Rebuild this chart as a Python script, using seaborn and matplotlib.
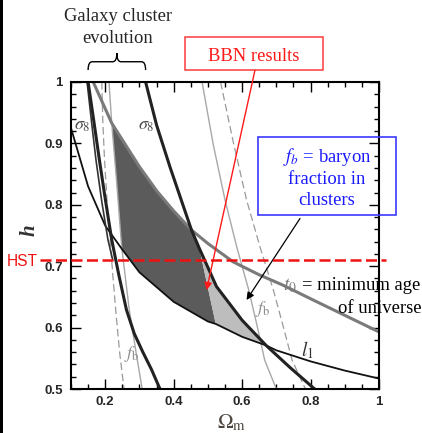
import matplotlib
matplotlib.use("Agg")
import matplotlib.pyplot as plt
import seaborn as sns
from matplotlib.path import Path
from matplotlib.patches import PathPatch, Rectangle
from matplotlib.ticker import MultipleLocator, FuncFormatter

# =========================================
# Curves (Omega_m, h)
# =========================================

# l1 (first acoustic peak)
l1_om = [0.1, 0.15, 0.2, 0.25, 0.3, 0.4, 0.5, 0.523, 0.6, 0.67, 0.7, 0.8, 0.9, 1.0]
l1_h = [0.925, 0.83, 0.766, 0.727, 0.69, 0.642, 0.61, 0.606, 0.585, 0.571, 0.563, 0.545, 0.53, 0.517]

# t0 = minimum age of universe
t0_om = [0.165, 0.219, 0.3, 0.35, 0.4, 0.452, 0.5, 0.574, 0.65, 0.72, 0.8, 0.9, 1.0]
t0_h = [1.0, 0.933, 0.862, 0.823, 0.79, 0.759, 0.737, 0.707, 0.686, 0.669, 0.647, 0.62, 0.593]

# sigma8 (galaxy cluster evolution)
s8l_om = [0.15, 0.167, 0.183, 0.2, 0.219, 0.24, 0.262, 0.285, 0.31, 0.335, 0.36]
s8l_h = [1.0, 0.935, 0.873, 0.81, 0.743, 0.685, 0.629, 0.59, 0.56, 0.532, 0.5]
s8a_om = [0.147, 0.16, 0.173, 0.19, 0.208, 0.222]
s8a_h = [1.0, 0.935, 0.873, 0.805, 0.743, 0.71]
s8r_om = [0.318, 0.35, 0.389, 0.452, 0.475, 0.525, 0.6, 0.67, 0.74, 0.812]
s8r_h = [1.0, 0.93, 0.862, 0.759, 0.729, 0.667, 0.612, 0.571, 0.535, 0.5]

# baryon fraction lines
fbl_om = [0.211, 0.219, 0.233, 0.248, 0.27, 0.29, 0.308]
fbl_h = [1.0, 0.933, 0.84, 0.732, 0.63, 0.56, 0.5]
fbld_om = [0.19, 0.193, 0.198, 0.206, 0.214, 0.223, 0.232, 0.242, 0.255]
fbld_h = [1.0, 0.935, 0.873, 0.8, 0.743, 0.68, 0.62, 0.56, 0.5]
fbr_om = [0.483, 0.515, 0.55, 0.585, 0.62, 0.645, 0.666, 0.70]
fbr_h = [1.0, 0.9, 0.808, 0.73, 0.66, 0.6, 0.547, 0.5]
fbrd_om = [0.537, 0.575, 0.613, 0.653, 0.692, 0.721, 0.746, 0.785]
fbrd_h = fbr_h

# allowed regions
dark_om = [0.219, 0.3, 0.35, 0.4, 0.452, 0.475, 0.523, 0.5, 0.4, 0.3, 0.25, 0.248, 0.233]
dark_h = [0.933, 0.862, 0.823, 0.79, 0.759, 0.729, 0.606, 0.61, 0.642, 0.69, 0.727, 0.732, 0.84]
light_om = [0.475, 0.525, 0.6, 0.67, 0.6, 0.523]
light_h = [0.729, 0.667, 0.612, 0.571, 0.585, 0.606]

hst_h = 0.71
bbn_tip = (0.496, 0.661)
fb_tip = (0.613, 0.645)

# =========================================
# Figure setup
# =========================================

sns.set_style("ticks")
plt.rcParams['font.family'] = ['Liberation Serif', 'DejaVu Serif']
plt.rcParams['mathtext.fontset'] = 'stix'

W, H = 422, 433
fig = plt.figure(figsize=(W / 100, H / 100), dpi=100)
ax = fig.add_axes([71 / W, 1 - 389 / H, 308 / W, 307 / H])


def P(px, py):
    return (px / W, 1 - py / H)


ax.fill(dark_om, dark_h, color='#5b5b5b', lw=0, zorder=1)
ax.fill(light_om, light_h, color='#bdbdbd', lw=0, zorder=1)


def curve(om, h, **kw):
    sns.lineplot(x=om, y=h, sort=False, estimator=None, ax=ax, **kw)


curve(fbld_om, fbld_h, color='#9a9a9a', linewidth=0.9, linestyle=(0, (6, 3)))
curve(fbl_om, fbl_h, color='#a8a8a8', linewidth=1.0)
curve(fbrd_om, fbrd_h, color='#9a9a9a', linewidth=0.9, linestyle=(0, (6, 3)))
curve(fbr_om, fbr_h, color='#a8a8a8', linewidth=1.0)
curve(t0_om, t0_h, color='#7a7a7a', linewidth=2.2)
curve(l1_om, l1_h, color='#111111', linewidth=1.3)
curve(s8a_om, s8a_h, color='#333333', linewidth=1.2)
curve(s8l_om, s8l_h, color='#222222', linewidth=2.2)
curve(s8r_om, s8r_h, color='#222222', linewidth=2.2)

ax.set_xlim(0.1, 1.0)
ax.set_ylim(0.5, 1.0)
ax.set_xlabel("")
ax.set_ylabel("")

ax.xaxis.set_major_locator(MultipleLocator(0.2))
ax.xaxis.set_minor_locator(MultipleLocator(0.05))
ax.yaxis.set_major_locator(MultipleLocator(0.1))
ax.yaxis.set_minor_locator(MultipleLocator(0.02))
fmt = FuncFormatter(lambda v, p: f"{v:g}")
ax.xaxis.set_major_formatter(fmt)
ax.yaxis.set_major_formatter(fmt)
ax.tick_params(which='both', direction='in', top=True, right=True, width=1, color='black')
ax.tick_params(which='major', length=7)
ax.tick_params(which='minor', length=3.5)
ax.tick_params(axis='x', pad=5)
ax.tick_params(axis='y', pad=6)
for lbl in ax.get_xticklabels() + ax.get_yticklabels():
    lbl.set_fontfamily('Liberation Sans')
    lbl.set_fontweight('bold')
    lbl.set_fontsize(9.5)
for sp in ax.spines.values():
    sp.set_linewidth(1.5)
    sp.set_color('black')

# HST line
ax.plot([0.0095, 1.019], [hst_h, hst_h], color='#ee1111', linewidth=1.8,
        linestyle=(0, (4.4, 1.8)), clip_on=False, zorder=5)
fig.text(*P(7, 266), "HST", color='#ee1111', fontsize=11.2,
         family='Liberation Sans', ha='left', va='baseline')

# axis labels
fig.text(*P(232, 428), r"$\Omega_{\rm m}$", color='#4d463f', fontsize=15,
         ha='center', va='baseline')
fig.text(*P(30, 230), "h", color='#333333', fontsize=15, fontstyle='italic',
         fontweight='bold', rotation=90, ha='center', va='center')

# curve labels
ax.text(0.109, 0.922, r"$\sigma_8$", color='#505050', fontsize=13, va='baseline')
ax.text(0.2965, 0.922, r"$\sigma_8$", color='#505050', fontsize=13, va='baseline')
ax.text(0.255, 0.55, r"$f_{\rm b}$", color='#8e8e8e', fontsize=13, va='baseline')
ax.text(0.637, 0.623, r"$f_{\rm b}$", color='#8e8e8e', fontsize=13, va='baseline')
ax.text(0.773, 0.553, r"$l_1$", color='#333333', fontsize=14, va='baseline')

fig.text(*P(283, 290), r"$t_0$", color='#7a7a7a', fontsize=14, ha='left', va='baseline')
fig.text(*P(420, 290), "= minimum age", color='black', fontsize=13.4,
         ha='right', va='baseline')
fig.text(*P(421, 313), "of universe", color='black', fontsize=13.4,
         ha='right', va='baseline')

# Galaxy cluster evolution with brace
fig.text(*P(118, 21), "Galaxy cluster", fontsize=13.4, ha='center', va='baseline')
fig.text(*P(118, 43), "evolution", fontsize=13.4, ha='center', va='baseline')
x0, x1 = s8l_om[0], s8r_om[0]
xm = (x0 + x1) / 2
yb, ym, yt = 1.0195, 1.033, 1.047
r = 0.012
verts = [(x0, yb), (x0, ym), (x0 + r, ym), (xm - r, ym), (xm, ym), (xm, yt),
         (xm, ym), (xm + r, ym), (x1 - r, ym), (x1, ym), (x1, yb)]
codes = [Path.MOVETO, Path.CURVE3, Path.CURVE3, Path.LINETO, Path.CURVE3, Path.CURVE3,
         Path.CURVE3, Path.CURVE3, Path.LINETO, Path.CURVE3, Path.CURVE3]
ax.add_patch(PathPatch(Path(verts, codes), fill=False, lw=1.0, color='black', clip_on=False))

# BBN box and arrow
x, y = P(185.3, 70)
fig.patches.append(Rectangle((x, y), (323.3 - 185.3) / W, (70 - 37.3) / H,
                             transform=fig.transFigure, fill=False,
                             edgecolor='#ff3b3b', lw=1.1))
fig.text(*P(254, 61), "BBN results", color='#ff1a1a', fontsize=13.4,
         ha='center', va='baseline')
ax.annotate("", xy=bbn_tip, xycoords='data', xytext=P(255, 70),
            textcoords='figure fraction',
            arrowprops=dict(arrowstyle='-|>', color='#ff1a1a', lw=1.0,
                            shrinkA=0, shrinkB=0, mutation_scale=11))

# baryon fraction box and arrow
x, y = P(258.3, 215)
fig.patches.append(Rectangle((x, y), (396 - 258.3) / W, (215 - 137.3) / H,
                             transform=fig.transFigure, fill=False,
                             edgecolor='#3a3aff', lw=1.2))
fig.text(*P(327, 162), r"$f_b$ = baryon", color='#1a1aff', fontsize=13.4,
         ha='center', va='baseline')
fig.text(*P(327, 183.5), "fraction in", color='#1a1aff', fontsize=13.4,
         ha='center', va='baseline')
fig.text(*P(327, 205), "clusters", color='#1a1aff', fontsize=13.4,
         ha='center', va='baseline')
ax.annotate("", xy=fb_tip, xycoords='data', xytext=P(300, 218.5),
            textcoords='figure fraction',
            arrowprops=dict(arrowstyle='-|>', color='black', lw=0.9,
                            shrinkA=0, shrinkB=0, mutation_scale=11))

# dark strip on the left edge of the slide
fig.patches.append(Rectangle((0, 0), 3 / W, 1, transform=fig.transFigure,
                             color='black', lw=0))

fig.savefig("out.png", dpi=100)
